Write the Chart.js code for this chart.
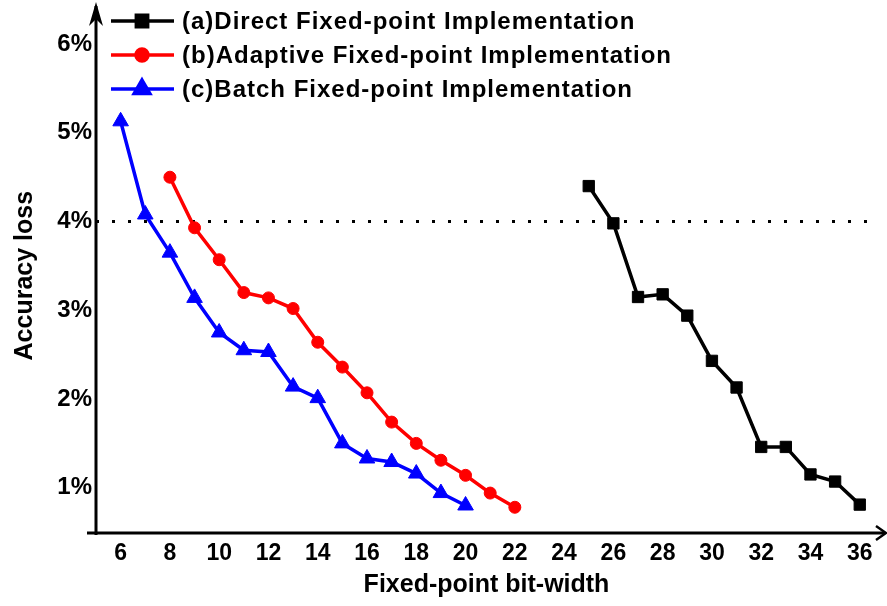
<!DOCTYPE html>
<html>
<head>
<meta charset="utf-8">
<script src="https://cdn.jsdelivr.net/npm/chart.js@4/dist/chart.umd.min.js"></script>
<style>
  html, body { margin: 0; padding: 0; background: #fff; }
  #wrap { width: 887px; height: 606px; }
</style>
</head>
<body>
<div id="wrap"><canvas id="lossChart"></canvas></div>
<script>
// bit-widths and accuracy loss (%) per implementation
const directBits = [25, 26, 27, 28, 29, 30, 31, 32, 33, 34, 35, 36];
const directLoss = [4.40, 3.98, 3.15, 3.18, 2.94, 2.43, 2.13, 1.46, 1.46, 1.15, 1.07, 0.81];

const adaptiveBits = [8, 9, 10, 11, 12, 13, 14, 15, 16, 17, 18, 19, 20, 21, 22];
const adaptiveLoss = [4.50, 3.93, 3.57, 3.20, 3.14, 3.02, 2.64, 2.36, 2.07, 1.74, 1.50, 1.31, 1.14, 0.94, 0.78];

const batchBits = [6, 7, 8, 9, 10, 11, 12, 13, 14, 15, 16, 17, 18, 19, 20];
const batchLoss = [5.13, 4.08, 3.65, 3.14, 2.75, 2.55, 2.53, 2.14, 2.01, 1.50, 1.33, 1.29, 1.16, 0.94, 0.80];

// 4% threshold line
const thresholdBits = [5, 36.7];
const thresholdLoss = [4, 4];

const xTicks = [6, 8, 10, 12, 14, 16, 18, 20, 22, 24, 26, 28, 30, 32, 34, 36];
const yTicks = [1, 2, 3, 4, 5, 6];

const FONT = '"Liberation Sans", Arial, sans-serif';

function points(xs, ys) {
    return xs.map((x, i) => ({ x: x, y: ys[i] }));
}

// axis lines with arrow heads
const arrowAxes = {
    id: 'arrowAxes',
    afterDraw(chart) {
        const { ctx, chartArea: a } = chart;
        ctx.save();
        ctx.strokeStyle = '#000';
        ctx.fillStyle = '#000';
        ctx.lineWidth = 3;
        ctx.lineCap = 'butt';
        // y axis
        ctx.beginPath();
        ctx.moveTo(a.left, a.bottom + 2);
        ctx.lineTo(a.left, 6);
        ctx.stroke();
        ctx.beginPath();
        ctx.moveTo(a.left, 2);
        ctx.lineTo(a.left - 7, 26);
        ctx.lineTo(a.left, 19);
        ctx.lineTo(a.left + 7, 26);
        ctx.closePath();
        ctx.fill();
        // x axis
        ctx.beginPath();
        ctx.moveTo(a.left - 9, a.bottom);
        ctx.lineTo(885, a.bottom);
        ctx.stroke();
        ctx.lineWidth = 2.5;
        ctx.beginPath();
        ctx.moveTo(876, a.bottom - 7);
        ctx.lineTo(886, a.bottom);
        ctx.lineTo(876, a.bottom + 7);
        ctx.stroke();
        ctx.restore();
    }
};

// legend rows: line sample with marker, then label
const lineLegend = {
    id: 'lineLegend',
    afterDraw(chart) {
        const { ctx } = chart;
        const rows = chart.data.datasets.filter(d => d.label);
        ctx.save();
        ctx.font = 'bold 24px ' + FONT;
        ctx.letterSpacing = '1px';
        ctx.textBaseline = 'middle';
        rows.forEach((d, i) => {
            const y = 21 + i * 34;
            ctx.strokeStyle = d.borderColor;
            ctx.fillStyle = d.backgroundColor;
            ctx.lineWidth = d.borderWidth;
            ctx.beginPath();
            ctx.moveTo(111, y);
            ctx.lineTo(174, y);
            ctx.stroke();
            Chart.helpers.drawPoint(ctx, {
                pointStyle: d.pointStyle,
                radius: d.pointRadius,
                rotation: 0,
                borderWidth: 1
            }, 142, y);
            ctx.fillStyle = '#000';
            ctx.fillText(d.label, 182, y + 1);
        });
        ctx.restore();
    }
};

const ctx = document.getElementById('lossChart').getContext('2d');

new Chart(ctx, {
    type: 'line',
    data: {
        datasets: [
            {
                label: '(a)Direct Fixed-point Implementation',
                data: points(directBits, directLoss),
                borderColor: '#000000',
                backgroundColor: '#000000',
                borderWidth: 3.5,
                pointStyle: 'rect',
                pointRadius: 8,
                pointBorderWidth: 1
            },
            {
                label: '(b)Adaptive Fixed-point Implementation',
                data: points(adaptiveBits, adaptiveLoss),
                borderColor: '#ff0000',
                backgroundColor: '#ff0000',
                borderWidth: 3.5,
                pointStyle: 'circle',
                pointRadius: 6,
                pointBorderWidth: 1
            },
            {
                label: '(c)Batch Fixed-point Implementation',
                data: points(batchBits, batchLoss),
                borderColor: '#0000ff',
                backgroundColor: '#0000ff',
                borderWidth: 3.5,
                pointStyle: 'triangle',
                pointRadius: 9,
                pointBorderWidth: 1
            },
            {
                label: '',
                data: points(thresholdBits, thresholdLoss),
                borderColor: '#000000',
                borderWidth: 3,
                borderDash: [3, 13],
                pointRadius: 0
            }
        ]
    },
    options: {
        responsive: true,
        maintainAspectRatio: false,
        animation: false,
        layout: { padding: { left: 8, top: 5, right: 3, bottom: 0 } },
        scales: {
            x: {
                type: 'linear',
                min: 5,
                max: 36.7,
                afterFit: s => { s.height = 73; },
                afterBuildTicks: s => { s.ticks = xTicks.map(v => ({ value: v })); },
                grid: { display: false, drawTicks: false },
                border: { display: false },
                ticks: {
                    padding: 7,
                    color: '#000',
                    font: { family: FONT, size: 23, weight: 'bold' },
                    maxRotation: 0,
                    autoSkip: false
                },
                title: {
                    display: true,
                    text: 'Fixed-point bit-width',
                    color: '#000',
                    padding: { top: 0, bottom: 6 },
                    font: { family: FONT, size: 25, weight: 'bold' }
                }
            },
            y: {
                min: 0.49,
                max: 6.29,
                afterFit: s => { s.width = 88; },
                afterBuildTicks: s => { s.ticks = yTicks.map(v => ({ value: v })); },
                grid: { display: false, drawTicks: false },
                border: { display: false },
                ticks: {
                    padding: 4,
                    color: '#000',
                    font: { family: FONT, size: 24, weight: 'bold' },
                    callback: v => v + '%'
                },
                title: {
                    display: true,
                    text: 'Accuracy loss',
                    color: '#000',
                    padding: { top: 2, bottom: 4 },
                    font: { family: FONT, size: 25, weight: 'bold' }
                }
            }
        },
        plugins: {
            legend: { display: false },
            tooltip: { enabled: false }
        }
    },
    plugins: [arrowAxes, lineLegend]
});
</script>
</body>
</html>
